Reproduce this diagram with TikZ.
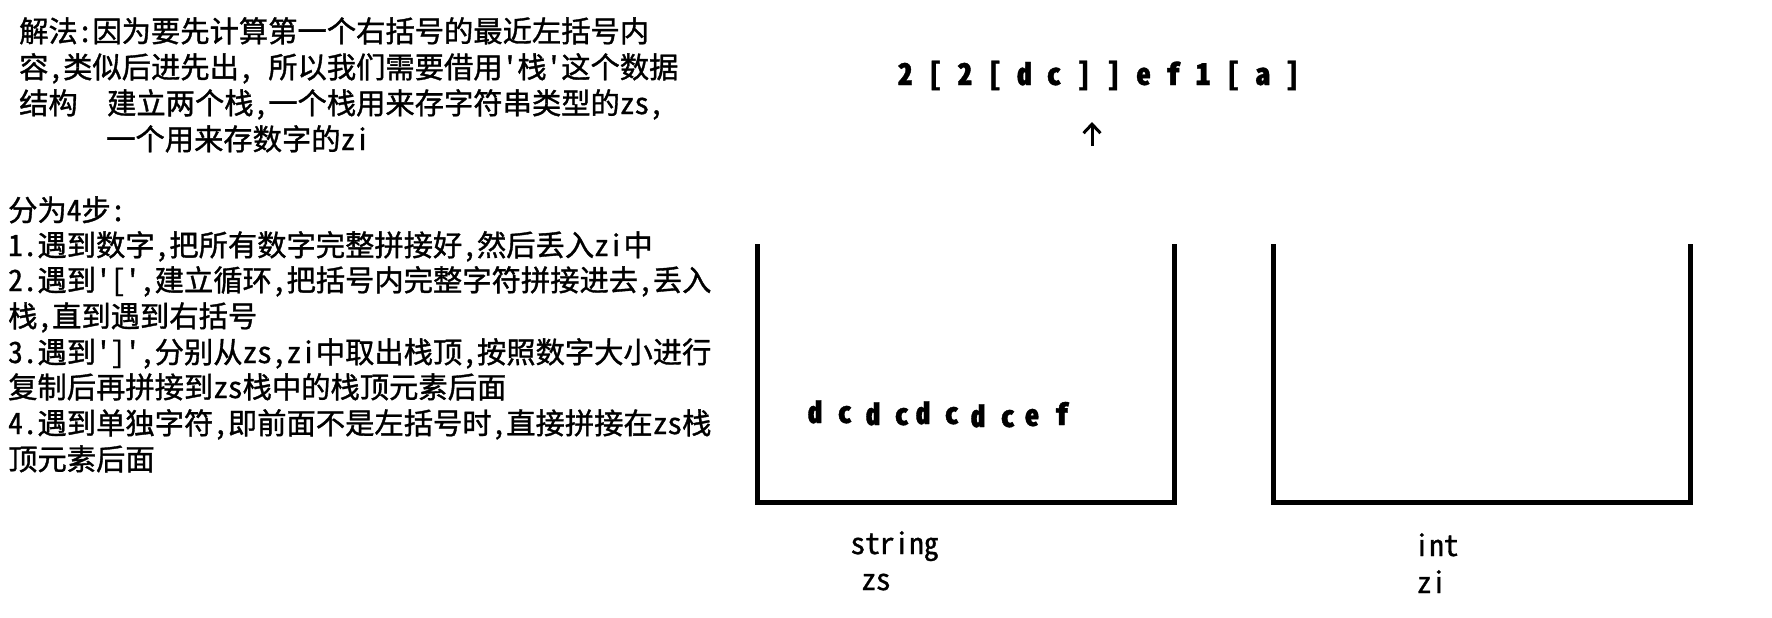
\documentclass[tikz,border=0pt]{standalone}
\usepackage{fontspec}
\newfontfamily\cjk[RawFeature=+hwid, FakeBold=1.2]{Noto Sans CJK SC}
\usetikzlibrary{arrows.meta}
\tikzset{
  note/.style={anchor=base west, inner sep=0pt,
               font=\cjk\fontsize{29.3}{32}\selectfont},
  sequence/.style={anchor=base west, inner sep=0pt,
                   font=\cjk\bfseries\fontsize{29.8}{32}\selectfont},
  cell/.style={anchor=base, inner sep=0pt,
               font=\cjk\bfseries\fontsize{29.3}{32}\selectfont},
  stacklabel/.style={anchor=base, inner sep=0pt,
                     font=\cjk\fontsize{29.3}{32}\selectfont},
  wall/.style={line width=5pt, line join=miter},
  arrow/.style={-{Straight Barb[length=9pt,width=17pt]}, line width=3pt}
}

\begin{document}
\begin{tikzpicture}[x=1pt, y=-1pt]
\useasboundingbox (0,0) rectangle (1772,618);

% explanation
\node[note] (intro1) at (19,42) {解法:因为要先计算第一个右括号的最近左括号内};
\node[note] (intro2) at (19,78) {容,类似后进先出, 所以我们需要借用'栈'这个数据};
\node[note] (intro3) at (19,114) {结构\hspace{1em}建立两个栈,一个栈用来存字符串类型的zs,};
\node[note] (intro4) at (106,150) {一个用来存数字的zi};

% steps
\node[note] (steps) at (8,221) {分为4步:};
\node[note] (step1) at (8,256) {1.遇到数字,把所有数字完整拼接好,然后丢入zi中};
\node[note] (step2a) at (8,291) {2.遇到'[',建立循环,把括号内完整字符拼接进去,丢入};
\node[note] (step2b) at (8,327) {栈,直到遇到右括号};
\node[note] (step3a) at (8,363) {3.遇到']',分别从zs,zi中取出栈顶,按照数字大小进行};
\node[note] (step3b) at (8,398) {复制后再拼接到zs栈中的栈顶元素后面};
\node[note] (step4a) at (8,434) {4.遇到单独字符,即前面不是左括号时,直接拼接在zs栈};
\node[note] (step4b) at (8,470) {顶元素后面};

% input string and pointer
\node[sequence] (input) at (897.5,85) {2 [ 2 [ d c ] ] e f 1 [ a ]};
\coordinate (ptrtail) at (1092,146);
\coordinate (ptrhead) at (1092,122);
\draw[arrow] (ptrtail) -- (ptrhead);

% the two stacks
\draw[wall] (757.5,244) -- (757.5,502) -- (1174.5,502) -- (1174.5,244);
\draw[wall] (1273.5,244) -- (1273.5,502) -- (1690.5,502) -- (1690.5,244);

\foreach \x/\y/\c [count=\i] in {815/423/d, 845/423/c, 873/425/d, 902/425/c,
    923/424/d, 952/424/c, 978/427/d, 1008/427/c, 1032/426/e, 1062/425/f}
  \node[cell] (zs\i) at (\x,\y) {\c};

\node[stacklabel] (strtype) at (894.5,554) {string};
\node[stacklabel] (strname) at (876,590) {zs};
\node[stacklabel] (inttype) at (1436.5,556) {int};
\node[stacklabel] (intname) at (1431.5,593) {zi};
\end{tikzpicture}
\end{document}
